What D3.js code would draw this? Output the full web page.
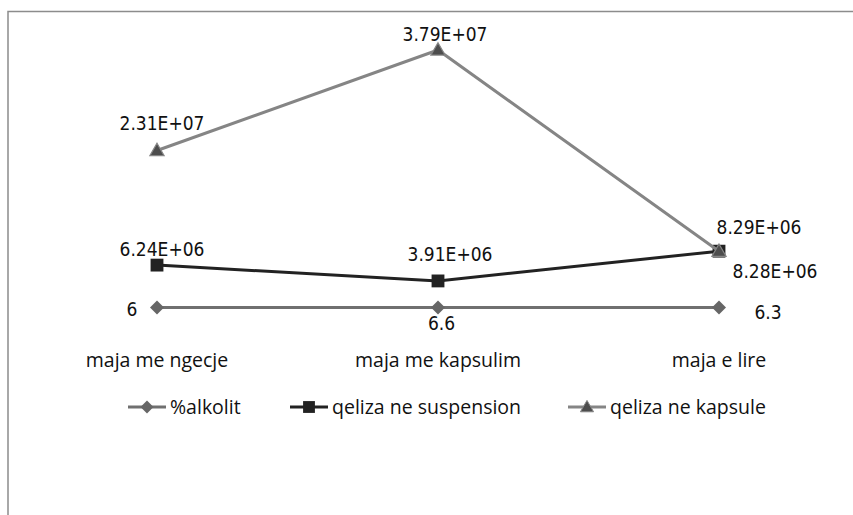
<!DOCTYPE html>
<html>
<head>
<meta charset="utf-8">
<script src="https://cdn.jsdelivr.net/npm/d3@7"></script>
<style>
  html, body { margin: 0; padding: 0; background: #fff; }
  svg { display: block; }
  .dlabel { font-family: "DejaVu Sans Condensed", "DejaVu Sans", sans-serif; font-stretch: condensed; font-size: 19px; fill: #111; }
  .cat { font-family: "Open Sans", sans-serif; font-size: 19.5px; fill: #111; }
  .leg { font-family: "Open Sans", sans-serif; font-size: 19.5px; fill: #111; }
</style>
</head>
<body>
<script>
// ---- data ----
const categories = ["maja me ngecje", "maja me kapsulim", "maja e lire"];
const seriesNames = ["%alkolit", "qeliza ne suspension", "qeliza ne kapsule"];
const alkolit = [6, 6.6, 6.3];
const suspension = [6.24e6, 3.91e6, 8.29e6];
const kapsule = [2.31e7, 3.79e7, 8.28e6];
const alkolitLabels = ["6", "6.6", "6.3"];
const suspensionLabels = ["6.24E+06", "3.91E+06", "8.29E+06"];
const kapsuleLabels = ["2.31E+07", "3.79E+07", "8.28E+06"];
const yDomain = [0, 4e7];

// ---- layout / style (not data) ----
const W = 853, H = 515;
const labelOffsets = [
  [[-25, 1.5], [3.5, 15.5], [49, 5]],
  [[5, -16], [12, -27], [40, -23.7]],
  [[5, -27.6], [7, -16], [56, 20.3]]
];
const styles = [
  { line: "#707070", marker: "#666666", stroke: "none", shape: d3.symbolDiamond2, size: 125 },
  { line: "#222222", marker: "#222222", stroke: "none", shape: d3.symbolSquare2, size: 210 },
  { line: "#858585", marker: "#4d4d4d", stroke: "#858585", shape: d3.symbolTriangle2, size: 145 }
];

const svg = d3.select("body").append("svg").attr("width", W).attr("height", H);

// frame (left and top edges visible)
svg.append("path")
  .attr("d", `M8,${H} L8,11.5 L${W},11.5`)
  .attr("fill", "none").attr("stroke", "#8c8c8c").attr("stroke-width", 1.5);

const x = d3.scalePoint().domain(categories).range([157, 719]);
const y = d3.scaleLinear().domain(yDomain).range([307.5, 35.7]);

const allSeries = [
  { name: seriesNames[0], values: alkolit, labels: alkolitLabels },
  { name: seriesNames[1], values: suspension, labels: suspensionLabels },
  { name: seriesNames[2], values: kapsule, labels: kapsuleLabels }
];

const line = d3.line().x((d, i) => x(categories[i])).y(d => y(d));

allSeries.forEach((s, si) => {
  const st = styles[si];
  const g = svg.append("g");
  g.append("path").datum(s.values)
    .attr("d", line).attr("fill", "none")
    .attr("stroke", st.line).attr("stroke-width", 3);
  g.selectAll("path.m").data(s.values).join("path")
    .attr("class", "m")
    .attr("transform", (d, i) => `translate(${x(categories[i])},${y(d) + (si === 2 ? 1 : 0)})`)
    .attr("d", d3.symbol(st.shape, st.size))
    .attr("fill", st.marker)
    .attr("stroke", st.stroke).attr("stroke-width", 1.2);
});

// data labels
allSeries.forEach((s, si) => {
  svg.append("g").selectAll("text").data(s.values).join("text")
    .attr("class", "dlabel")
    .attr("x", (d, i) => x(categories[i]) + labelOffsets[si][i][0])
    .attr("y", (d, i) => y(d) + labelOffsets[si][i][1])
    .attr("dy", "0.36em")
    .attr("text-anchor", "middle")
    .text((d, i) => s.labels[i]);
});

// category labels
svg.append("g").selectAll("text").data(categories).join("text")
  .attr("class", "cat")
  .attr("x", d => x(d))
  .attr("y", 367)
  .attr("text-anchor", "middle")
  .text(d => d);

// legend
const legX = [128, 290, 568];
const leg = svg.append("g");
allSeries.forEach((s, si) => {
  const st = styles[si];
  const g = leg.append("g").attr("transform", `translate(${legX[si]},407)`);
  g.append("line").attr("x1", 0).attr("x2", 38).attr("y1", 0).attr("y2", 0)
    .attr("stroke", st.line).attr("stroke-width", 3);
  g.append("path").attr("transform", `translate(19,${si === 2 ? 1 : 0})`)
    .attr("d", d3.symbol(st.shape, st.size * 0.85))
    .attr("fill", st.marker).attr("stroke", st.stroke).attr("stroke-width", 1);
  g.append("text").attr("class", "leg")
    .attr("x", 42).attr("y", 0).attr("dy", "0.35em")
    .text(s.name);
});
</script>
</body>
</html>
